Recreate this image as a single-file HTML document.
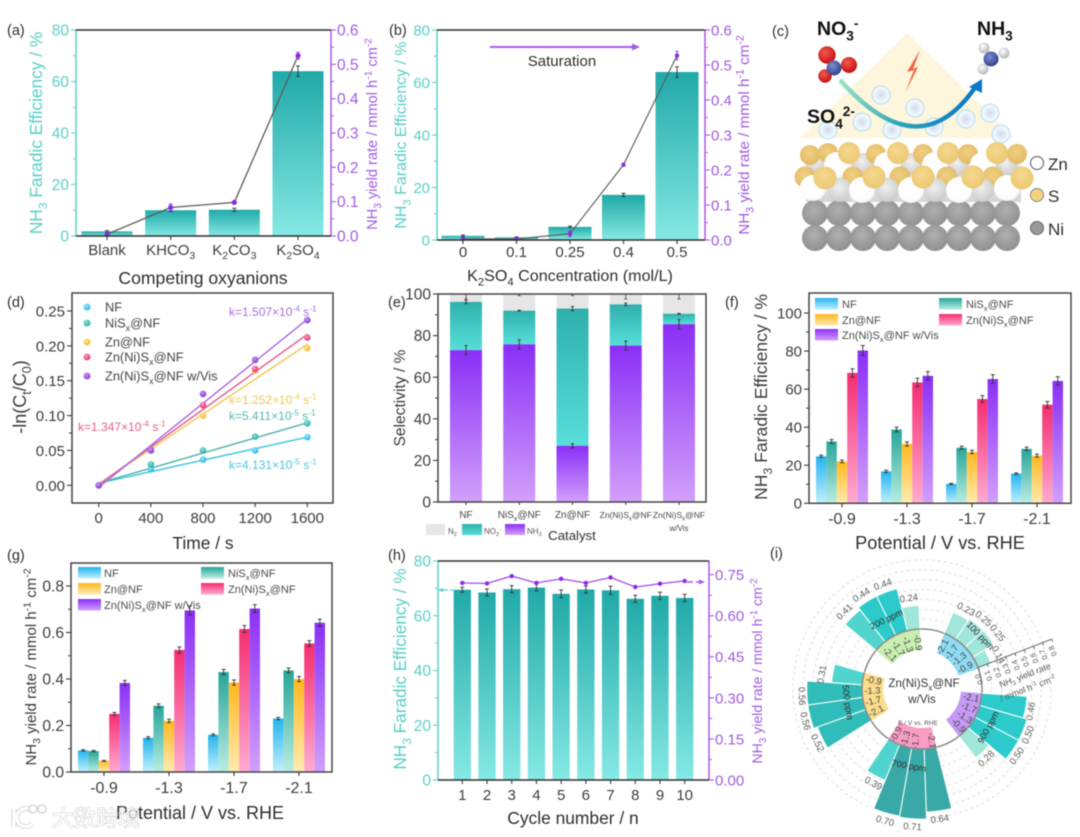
<!DOCTYPE html>
<html lang="en">
<head>
<meta charset="utf-8">
<title>Electrocatalysis figure panels</title>
<style>
html,body{margin:0;padding:0;background:#fff;width:1080px;height:837px;overflow:hidden}
svg{display:block;font-family:"Liberation Sans","Noto Sans CJK SC",sans-serif;filter:blur(.6px)}
</style>
</head>
<body>
<svg id="figure" xmlns="http://www.w3.org/2000/svg" width="1080" height="837" viewBox="0 0 1080 837">
<defs>
<linearGradient id="gTeal" x1="0" y1="0" x2="0" y2="1"><stop offset="0" stop-color="#20a9a8"/><stop offset="1" stop-color="#86e9e4"/></linearGradient>
<linearGradient id="gNO" x1="0" y1="0" x2="0" y2="1"><stop offset="0" stop-color="#2fb0ad"/><stop offset="1" stop-color="#58dfd9"/></linearGradient>
<linearGradient id="gVis" x1="0" y1="0" x2="0" y2="1"><stop offset="0" stop-color="#8a2ff6"/><stop offset="1" stop-color="#d2a0fb"/></linearGradient>
<linearGradient id="gBlue" x1="0" y1="0" x2="0" y2="1"><stop offset="0" stop-color="#23b4ef"/><stop offset="1" stop-color="#c2f0fd"/></linearGradient>
<linearGradient id="gNi" x1="0" y1="0" x2="0" y2="1"><stop offset="0" stop-color="#28a59b"/><stop offset="1" stop-color="#b9eee2"/></linearGradient>
<linearGradient id="gZn" x1="0" y1="0" x2="0" y2="1"><stop offset="0" stop-color="#ffb81e"/><stop offset="1" stop-color="#ffebb0"/></linearGradient>
<linearGradient id="gPink" x1="0" y1="0" x2="0" y2="1"><stop offset="0" stop-color="#f52d72"/><stop offset="1" stop-color="#ffabd0"/></linearGradient>
<linearGradient id="gArc" x1="0" y1="0" x2="1" y2="0"><stop offset="0" stop-color="#9be3c4"/><stop offset=".45" stop-color="#2aa3b8"/><stop offset="1" stop-color="#0c78c4"/></linearGradient>
<linearGradient id="gBand" x1="0" y1="0" x2="0" y2="1"><stop offset="0" stop-color="#f4f0e6"/><stop offset=".6" stop-color="#e4e4e4"/><stop offset="1" stop-color="#d4d4d4"/></linearGradient>
<radialGradient id="ballBlue" cx=".4" cy=".35" r=".7"><stop offset="0" stop-color="#9fe9fb"/><stop offset="1" stop-color="#19b2e2"/></radialGradient>
<radialGradient id="ballTeal" cx=".4" cy=".35" r=".7"><stop offset="0" stop-color="#8fe3d6"/><stop offset="1" stop-color="#1da79c"/></radialGradient>
<radialGradient id="ballYellow" cx=".4" cy=".35" r=".7"><stop offset="0" stop-color="#ffe49a"/><stop offset="1" stop-color="#f7b21a"/></radialGradient>
<radialGradient id="ballPink" cx=".4" cy=".35" r=".7"><stop offset="0" stop-color="#fb9dbd"/><stop offset="1" stop-color="#e82a6e"/></radialGradient>
<radialGradient id="ballPurple" cx=".4" cy=".35" r=".7"><stop offset="0" stop-color="#c79bf5"/><stop offset="1" stop-color="#7f2bdc"/></radialGradient>
<radialGradient id="atomS" cx=".45" cy=".4" r=".65"><stop offset="0" stop-color="#f5d98f"/><stop offset="1" stop-color="#ebc671"/></radialGradient>
<radialGradient id="atomSBack" cx=".45" cy=".4" r=".65"><stop offset="0" stop-color="#f0d083"/><stop offset="1" stop-color="#e2b862"/></radialGradient>
<radialGradient id="atomZn" cx=".45" cy=".4" r=".65"><stop offset="0" stop-color="#ffffff"/><stop offset=".75" stop-color="#fdfdfd"/><stop offset="1" stop-color="#ececec"/></radialGradient>
<radialGradient id="atomZnBack" cx=".45" cy=".4" r=".65"><stop offset="0" stop-color="#f0f0f0"/><stop offset="1" stop-color="#c8c8c8"/></radialGradient>
<radialGradient id="atomNi" cx=".45" cy=".4" r=".65"><stop offset="0" stop-color="#b0b0b0"/><stop offset="1" stop-color="#8d8d8d"/></radialGradient>
<radialGradient id="atomO" cx=".4" cy=".35" r=".7"><stop offset="0" stop-color="#f25a4e"/><stop offset="1" stop-color="#c4090f"/></radialGradient>
<radialGradient id="atomN" cx=".4" cy=".35" r=".7"><stop offset="0" stop-color="#7c8cd0"/><stop offset="1" stop-color="#2c3d86"/></radialGradient>
<radialGradient id="atomH" cx=".4" cy=".35" r=".7"><stop offset="0" stop-color="#ffffff"/><stop offset="1" stop-color="#b0b0b0"/></radialGradient>
<radialGradient id="bubble" cx=".5" cy=".5" r=".5"><stop offset="0" stop-color="#d4d9e2"/><stop offset=".5" stop-color="#e4eff8"/><stop offset=".8" stop-color="#f4fafe"/><stop offset="1" stop-color="#a8d6f2"/></radialGradient>
</defs>
<rect width="1080" height="837" fill="#ffffff"/>
<g id="panel-a"></g>
<g id="panel-b"></g>
<g id="panel-c">
  <polygon points="907,33 1014,138 800,138" fill="#fdf5dc"/>
  <polygon points="920,50 907,72 914,70 905,93 918,67 913,69" fill="#f2623c"/>
</g>
<g id="panel-d"></g>
<g id="panel-e"></g>
<g id="panel-f"></g>
<g id="panel-g"></g>
<g id="panel-h"></g>
<g id="panel-i"></g>
<g opacity=".8">
  <path d="M14 809 L14 827 M32 811 A9 9 0 1 0 32 824" fill="none" stroke="#cfcfcf" stroke-width="5"/>
  <path d="M14 809 L14 827 M32 811 A9 9 0 1 0 32 824" fill="none" stroke="#ffffff" stroke-width="3"/>
  <circle cx="33" cy="809" r="4" fill="#fff" stroke="#cfcfcf" stroke-width="1.6"/>
  <circle cx="42" cy="809" r="4" fill="#fff" stroke="#cfcfcf" stroke-width="1.6"/>
  <text x="52" y="826" font-size="22" fill="#ffffff" stroke="#cdcdcd" stroke-width="1.3" paint-order="stroke">大数跨境</text>
</g>
</svg>
<script>
/* ---------- panel (a) data ---------- */
const aCategories = ['Blank','KHCO_{3}','K_{2}CO_{3}','K_{2}SO_{4}'];
const aEfficiency = [1.8,10,10.2,64];
const aEfficiencyErr = [0.3,0.5,0.6,2];
const aRate = [0.005,0.083,0.098,0.525];
const aRateErr = [0.004,0.01,0.004,0.01];
const aLeftTicks = [0,20,40,60,80];
const aRightTicks = [0,0.1,0.2,0.3,0.4,0.5,0.6];
/* ---------- panel (b) data ---------- */
const bCategories = ['0','0.1','0.25','0.4','0.5'];
const bEfficiency = [1.6,1,5,17.2,64];
const bEfficiencyErr = [0.3,0.2,0.3,0.6,2];
const bRate = [0.003,0.003,0.018,0.215,0.527];
const bRateErr = [0.003,0.003,0.008,0.004,0.012];
const bLeftTicks = [0,20,40,60,80];
const bRightTicks = [0,0.1,0.2,0.3,0.4,0.5,0.6];
/* ---------- panel (d) data ---------- */
const dTimes = [0,400,800,1200,1600];
const dNF = [0,0.023,0.037,0.05,0.069];
const dNiS = [0,0.03,0.05,0.07,0.089];
const dZn = [0,0.051,0.1,0.165,0.197];
const dZnNi = [0,0.051,0.115,0.167,0.212];
const dVis = [0,0.05,0.131,0.18,0.237];
const dSlopes = [4.131e-5,5.411e-5,1.252e-4,1.347e-4,1.507e-4];
const dIntercepts = [0.003,0.003,0.002,0.001,-0.003];
const dYTicks = [0,0.05,0.1,0.15,0.2,0.25];
const dXTicks = [0,400,800,1200,1600];
/* ---------- panel (e) data ---------- */
const eCategories = ['NF','NiS_{x}@NF','Zn@NF','Zn(Ni)S_{x}@NF','Zn(Ni)S_{x}@NF'];
const eNH3 = [73,75.8,27,75.2,85.5];
const eNO2 = [23.2,16.2,66,19.8,5];
const eN2 = [3.8,8,7,5,9.5];
const eNH3Err = [2.2,2.2,1,2.2,2.2];
const eNO2Err = [0.8,0.2,1,0.6,0.2];
const eN2Err = [1.2,0.4,0.4,1.2,1.2];
const eYTicks = [0,20,40,60,80,100];
/* ---------- panels (f) and (g) data ---------- */
const potentials = ['-0.9','-1.3','-1.7','-2.1'];
const fNF = [24.7,16.8,10.2,15.6];
const fNiS = [32.5,38.8,29.2,28.6];
const fZn = [22,31.2,27,25];
const fZnNi = [68.5,63.5,54.8,51.8];
const fVis = [80.3,67,65.3,64.3];
const fNFErr = [0.6,0.6,0.3,0.4];
const fNiSErr = [1,1.2,0.8,0.9];
const fZnErr = [0.7,1.1,0.9,0.8];
const fZnNiErr = [2.2,2.2,1.8,1.7];
const fVisErr = [2.6,2.2,2.3,2.2];
const fYTicks = [0,20,40,60,80,100];
const gNF = [0.093,0.147,0.16,0.23];
const gNiS = [0.09,0.285,0.43,0.437];
const gZn = [0.048,0.22,0.385,0.4];
const gZnNi = [0.25,0.525,0.615,0.553];
const gVis = [0.383,0.695,0.703,0.642];
const gNFErr = [0.003,0.005,0.004,0.005];
const gNiSErr = [0.003,0.008,0.011,0.01];
const gZnErr = [0.002,0.007,0.011,0.011];
const gZnNiErr = [0.006,0.013,0.015,0.012];
const gVisErr = [0.011,0.02,0.017,0.015];
const gYTicks = [0,0.2,0.4,0.6,0.8];
const catalystLabels = ['NF','NiS_{x}@NF','Zn@NF','Zn(Ni)S_{x}@NF','Zn(Ni)S_{x}@NF w/Vis'];
/* ---------- panel (h) data ---------- */
const hCycles = ['1','2','3','4','5','6','7','8','9','10'];
const hEfficiency = [69.5,68.5,69.7,70.3,68,69.6,69.3,66.2,67.3,66.5];
const hEfficiencyErr = [0.9,1.3,1.3,1.3,1.4,1.3,1.5,1.3,1.3,1.3];
const hRate = [0.72,0.718,0.745,0.72,0.735,0.72,0.74,0.705,0.717,0.727];
const hLeftTicks = [0,20,40,60,80];
const hRightTicks = [0,0.15,0.3,0.45,0.6,0.75];
/* ---------- panel (i) data ---------- */
const iGroups = ['100 ppm','900 ppm','700 ppm','500 ppm','200 ppm'];
const iPotentials = ['-2.1','-1.7','-1.3','-0.9'];
const i100 = [0.23,0.25,0.25,0.14];
const i900 = [0.46,0.50,0.50,0.28];
const i700 = [0.64,0.71,0.70,0.39];
const i500 = [0.52,0.56,0.56,0.31];
const i200 = [0.41,0.44,0.44,0.24];
const iAxisTicks = [0,0.1,0.2,0.3,0.4,0.5,0.6,0.7,0.8];

/* ---------- helpers ---------- */
const NS = 'http://www.w3.org/2000/svg';
const TEAL = '#5fd0c7', PURPLE = '#a85ae6', DARK = '#3a3a3a', TXT = '#3c3c3c';
const fp = n => Math.round(n*100)/100;
function linear(d0,d1,r0,r1){ return v => r0+(v-d0)*(r1-r0)/(d1-d0); }
function mk(parent,tag,attrs){
  const e = document.createElementNS(NS,tag);
  for(const k in attrs) e.setAttribute(k,attrs[k]);
  parent.appendChild(e);
  return e;
}
function rich(t,str,fs){
  const parts = str.split(/([_^]\{[^}]*\})/).filter(s=>s.length);
  let shift = 0;
  parts.forEach(p=>{
    const m = p.match(/^([_^])\{([^}]*)\}$/);
    const s = mk(t,'tspan',{});
    
    
    if(m){
      const d = m[1]==='_' ? fs*0.28 : -fs*0.36;
      s.setAttribute('dy',fp(d-shift));
      shift = d;
      s.setAttribute('font-size',fp(fs*0.7));
      s.textContent = m[2];
    }else{
      if(shift!==0){ s.setAttribute('dy',fp(-shift)); shift = 0; }
      s.textContent = p;
    }
  });
}
function label(p,x,y,str,fs,color,anchor,rotate,name){
  const t = mk(p,'text',{x:x,y:y,'font-size':fs,fill:color,'text-anchor':anchor||'middle'});
  
  
  if(rotate) t.setAttribute('transform','rotate('+fp(rotate)+' '+fp(x)+' '+fp(y)+')');
  rich(t,str,fs);
  return t;
}
function seg(p,x1,y1,x2,y2,color,w,name){
  const l = mk(p,'line',{x1:fp(x1),y1:fp(y1),x2:fp(x2),y2:fp(y2),stroke:color,'stroke-width':w});
  
  
  return l;
}
function bar(p,cx,w,yTop,yBase,fill,name){
  const r = mk(p,'rect',{x:fp(cx-w/2),y:fp(yTop),width:fp(w),height:fp(yBase-yTop),fill:fill});
  
  
  return r;
}
function dot(p,x,y,r,fill,name){
  const c = mk(p,'circle',{cx:fp(x),cy:fp(y),r:r,fill:fill});
  
  
  return c;
}
function err(p,x,y0,y1,cap,color,name){
  seg(p,x,y0,x,y1,color,0.9,name);
  seg(p,x-cap,y0,x+cap,y0,color,0.9,name+'-cap');
  seg(p,x-cap,y1,x+cap,y1,color,0.9,name+'-cap');
}
function yAxis(p,x,sc,ticks,side,color,dec,fs,tc,name){
  const dir = side==='left' ? -1 : 1;
  ticks.forEach((v,i)=>{
    seg(p,x,sc(v),x+dir*5,sc(v),color,1.1,name+'-tick');
    const lx = x+dir*(side==='left'?7:6);
    label(p,lx,sc(v)+fs*0.36,Number(v).toFixed(dec),fs,tc,side==='left'?'end':'start',0,name+'-tick-label');
    if(i<ticks.length-1){
      const m = sc((v+ticks[i+1])/2);
      seg(p,x,m,x+dir*3,m,color,1,name+'-minor-tick');
    }
  });
}
function xTicks(p,y,xs,labels,fs,ly,name){
  labels.forEach((s,i)=>{
    seg(p,xs[i],y,xs[i],y+4,DARK,1.1,name+'-tick');
    label(p,xs[i],ly,s,fs,TXT,'middle',0,name+'-tick-label');
  });
}
function legendSwatch(p,x,y,w,h,fill,name){
  const r = mk(p,'rect',{x:x,y:y,width:w,height:h,fill:fill});
  
  
}
function polyline(p,pts,color,w,name){
  const l = mk(p,'polyline',{points:pts.map(q=>fp(q[0])+','+fp(q[1])).join(' '),fill:'none',stroke:color,'stroke-width':w,'stroke-linejoin':'round'});
  
  
}
function box(p,L,T,R,B,name){
  const r = mk(p,'rect',{x:L,y:T,width:R-L,height:B-T,fill:'none',stroke:'#454545','stroke-width':1.5});
  
  
}
function dualFrame(p,L,R,T,B){
  seg(p,L,T,L,B,TEAL,1.5,'left-axis-line');
  seg(p,R,T,R,B,PURPLE,1.5,'right-axis-line');
  seg(p,L,T,R,T,'#2e2e2e',1.5,'top-axis-line');
  seg(p,L,B,R,B,'#2e2e2e',1.5,'bottom-axis-line');
}

/* ---------- panel a ---------- */
(function(){
  const p = document.getElementById('panel-a');
  const L=76,R=331,T=30,B=236;
  const yL = linear(0,80,B,T), yR = linear(0,0.6,B,T), x = linear(0,3,107,298);
  const xs = aCategories.map((c,i)=>x(i));
  aEfficiency.forEach((v,i)=>{
    bar(p,xs[i],51,yL(v),B,'url(#gTeal)','efficiency-bar');
    err(p,xs[i],yL(v-aEfficiencyErr[i]),yL(v+aEfficiencyErr[i]),2,'#333','efficiency-error-bar');
  });
  polyline(p,aRate.map((v,i)=>[xs[i],yR(v)]),'#5a5a5a',1.3,'yield-rate-line');
  aRate.forEach((v,i)=>{
    err(p,xs[i],yR(v-aRateErr[i]),yR(v+aRateErr[i]),2,'#8a2be2','yield-rate-error-bar');
    dot(p,xs[i],yR(v),2.6,'#8a2be2','yield-rate-point');
  });
  dualFrame(p,L,R,T,B);
  yAxis(p,L,yL,aLeftTicks,'left',TEAL,0,15.5,'#59cfc6','left-axis');
  yAxis(p,R,yR,aRightTicks,'right',PURPLE,1,15.5,'#a05be0','right-axis');
  xTicks(p,B,xs,aCategories,15,255,'x-axis');
  label(p,42,133,'NH_{3} Faradic Efficiency / %',17.3,'#59cfc6','middle',-90,'left-axis-title');
  label(p,377,134,'NH_{3} yield rate / mmol h^{-1} cm^{-2}',14.6,'#a05be0','middle',-90,'right-axis-title');
  label(p,203,284,'Competing oxyanions',17.6,'#2e2e2e','middle',0,'x-axis-title');
  label(p,7,35,'(a)',14.5,'#2e2e2e','start',0,'panel-label-a');
})();

/* ---------- panel b ---------- */
(function(){
  const p = document.getElementById('panel-b');
  const L=437,R=705,T=30,B=240;
  const yL = linear(0,80,B,T), yR = linear(0,0.6,B,T), x = linear(0,4,463,677);
  const xs = bCategories.map((c,i)=>x(i));
  bEfficiency.forEach((v,i)=>{
    bar(p,xs[i],43,yL(v),B,'url(#gTeal)','efficiency-bar');
    err(p,xs[i],yL(v-bEfficiencyErr[i]),yL(v+bEfficiencyErr[i]),2,'#333','efficiency-error-bar');
  });
  polyline(p,bRate.map((v,i)=>[xs[i],yR(v)]),'#5a5a5a',1.1,'yield-rate-line');
  bRate.forEach((v,i)=>{
    err(p,xs[i],yR(v-bRateErr[i]),yR(v+bRateErr[i]),1.5,'#8a2be2','yield-rate-error-bar');
    dot(p,xs[i],yR(v),2.2,'#8a2be2','yield-rate-point');
  });
  dualFrame(p,L,R,T,B);
  yAxis(p,L,yL,bLeftTicks,'left',TEAL,0,15,'#59cfc6','left-axis');
  yAxis(p,R,yR,bRightTicks,'right',PURPLE,1,15,'#a05be0','right-axis');
  xTicks(p,B,xs,bCategories,15,257,'x-axis');
  label(p,406,135,'NH_{3} Faradic Efficiency / %',16,'#59cfc6','middle',-90,'left-axis-title');
  label(p,749,135,'NH_{3} yield rate / mmol h^{-1} cm^{-2}',15.2,'#a05be0','middle',-90,'right-axis-title');
  label(p,570,281,'K_{2}SO_{4} Concentration (mol/L)',16.1,'#2e2e2e','middle',0,'x-axis-title');
  seg(p,490,47,635,47,'#a65be8',2,'saturation-arrow-line');
  const head = mk(p,'polygon',{points:'640,47 632,43.5 632,50.5',fill:'#a65be8'});
  
  
  label(p,562,66,'Saturation',15,'#2e2e2e','middle',0,'saturation-label');
  label(p,389,35,'(b)',14.5,'#2e2e2e','start',0,'panel-label-b');
})();

/* ---------- panel c illustration ---------- */
const cBubbles = [[881,95],[915,108],[862,122],[828,130],[892,130],[934,127],[966,119],[990,113],[1001,134]];
const cZnMidBack = [[817,163],[863,164],[912,164],[958,165],[1007,165]];
const cSTopBack = [[810,155],[828,153],[876,154],[923,154],[968,154],[1017,154]];
const cZnMid = [[837,165],[887,165],[935,165],[983,165]];
const cSTopFront = [[849,153],[898,153],[948,153],[997,153]];
const cSLowBack = [[805,177],[853,177],[900,177],[947,177],[993,177]];
const cZnLowBack = [[840,190],[887,190],[935,190],[982,190]];
const cZnLow = [[813,188],[862,190],[911,190],[959,190],[1007,188]];
const cSLow = [[825,178],[874,177],[923,177],[973,177],[1022,178]];
(function(){
  const p = document.getElementById('panel-c');
  cBubbles.forEach(b=>dot(p,b[0],b[1],9.5,'url(#bubble)','water-bubble'));
  legendSwatch(p,806,158,215,44,'url(#gBand)','atom-layer-shadow');
  for(let row=0;row<2;row++){
    for(let i=0;i<9;i++){
      dot(p,815+24*i,213+25*row,13,'url(#atomNi)','nickel-atom');
    }
  }
  cZnMidBack.forEach(a=>dot(p,a[0],a[1],11,'url(#atomZnBack)','zinc-atom'));
  cSTopBack.forEach(a=>dot(p,a[0],a[1],10,'url(#atomSBack)','sulfur-atom'));
  cZnMid.forEach(a=>dot(p,a[0],a[1],13,'url(#atomZn)','zinc-atom'));
  cSTopFront.forEach(a=>dot(p,a[0],a[1],11,'url(#atomS)','sulfur-atom'));
  cSLowBack.forEach(a=>dot(p,a[0],a[1],10.5,'url(#atomSBack)','sulfur-atom'));
  cZnLowBack.forEach(a=>dot(p,a[0],a[1],12,'url(#atomZnBack)','zinc-atom'));
  cZnLow.forEach(a=>dot(p,a[0],a[1],13,'url(#atomZn)','zinc-atom'));
  cSLow.forEach(a=>dot(p,a[0],a[1],11.5,'url(#atomS)','sulfur-atom'));
  const arc = mk(p,'path',{d:'M840 80 Q918 168 974 89',fill:'none',stroke:'url(#gArc)','stroke-width':4.5});
  
  
  const tip = mk(p,'polygon',{points:'982,79 969,87 982,93',fill:'#0c78c4'});
  
  
  dot(p,827,55,8.7,'url(#atomO)','oxygen-atom');
  dot(p,849,65,8,'url(#atomO)','oxygen-atom');
  dot(p,825,76,6.7,'url(#atomO)','oxygen-atom');
  dot(p,834,68,7.5,'url(#atomN)','nitrogen-atom');
  dot(p,984,48,5.5,'url(#atomH)','hydrogen-atom');
  dot(p,1004,53,5.5,'url(#atomH)','hydrogen-atom');
  dot(p,983,69,5.5,'url(#atomH)','hydrogen-atom');
  dot(p,991,59,7.5,'url(#atomN)','nitrogen-atom');
  label(p,817,35,'NO_{3}^{-}',19.5,'#111','start',0,'nitrate-label').setAttribute('font-weight','bold');
  label(p,977,35,'NH_{3}',19.5,'#111','start',0,'ammonia-label').setAttribute('font-weight','bold');
  label(p,807,123,'SO_{4}^{2-}',19.5,'#111','start',0,'sulfate-label').setAttribute('font-weight','bold');
  label(p,772,36,'(c)',14.5,'#2e2e2e','start',0,'panel-label-c');
  const z = dot(p,1037,163,6.5,'#ffffff','legend-zinc-marker');
  z.setAttribute('stroke','#555');
  const s = dot(p,1037,195,6.5,'#f3d27f','legend-sulfur-marker');
  s.setAttribute('stroke','#888');
  const n = dot(p,1037,228,6.5,'#9a9a9a','legend-nickel-marker');
  n.setAttribute('stroke','#666');
  label(p,1048,170,'Zn',17,'#2e2e2e','start',0,'legend-zinc-label');
  label(p,1048,202,'S',17,'#2e2e2e','start',0,'legend-sulfur-label');
  label(p,1048,235,'Ni',17,'#2e2e2e','start',0,'legend-nickel-label');
})();

/* ---------- panel d ---------- */
(function(){
  const p = document.getElementById('panel-d');
  const L=72,R=333,T=293,B=503;
  const x = linear(0,1600,98.7,307.3), y = linear(0,0.25,485.3,311);
  const series = [dNF,dNiS,dZn,dZnNi,dVis];
  const colors = ['#3cc4e6','#4fb5a8','#f2c64e','#e2588c','#a968e2'];
  const balls = ['url(#ballBlue)','url(#ballTeal)','url(#ballYellow)','url(#ballPink)','url(#ballPurple)'];
  series.forEach((s,k)=>{
    const t0 = dTimes[0], t1 = dTimes[dTimes.length-1];
    seg(p,x(t0),y(dSlopes[k]*t0+dIntercepts[k]),x(t1),y(dSlopes[k]*t1+dIntercepts[k]),colors[k],1.4,'fit-line');
  });
  series.forEach((s,k)=>{
    s.forEach((v,i)=>dot(p,x(dTimes[i]),y(v),3.3,balls[k],'data-point'));
  });
  box(p,L,T,R,B,'plot-frame');
  dYTicks.forEach((v,i)=>{
    seg(p,L,y(v),L-5,y(v),DARK,1.1,'y-axis-tick');
    label(p,65,y(v)+5.5,v.toFixed(2),15,TXT,'end',0,'y-axis-tick-label');
    if(i<dYTicks.length-1) seg(p,L,y((v+dYTicks[i+1])/2),L-3,y((v+dYTicks[i+1])/2),DARK,1,'y-axis-minor-tick');
  });
  dXTicks.forEach(v=>{
    seg(p,x(v),B,x(v),B+4,DARK,1.1,'x-axis-tick');
    label(p,x(v),B+20,String(v),15,TXT,'middle',0,'x-axis-tick-label');
  });
  label(p,26,397,'-ln(C_{t}/C_{0})',18,TXT,'middle',-90,'y-axis-title');
  label(p,203,549,'Time / s',17.4,'#2e2e2e','middle',0,'x-axis-title');
  label(p,7,307,'(d)',14.5,'#2e2e2e','start',0,'panel-label-d');
  const legendY = [307,323,342,357,376];
  catalystLabels.forEach((c,k)=>{
    dot(p,87,legendY[k],3.4,balls[k],'legend-marker');
    label(p,105,legendY[k]+4.5,c,12.8,'#454545','start',0,'legend-label');
  });
  label(p,229,316,'k=1.507×10^{-4} s^{-1}',12,'#ab6ee2','start',0,'rate-constant-vis');
  label(p,78,431,'k=1.347×10^{-4} s^{-1}',12,'#e2608c','start',0,'rate-constant-znnis');
  label(p,229,404,'k=1.252×10^{-4} s^{-1}',12,'#eccb58','start',0,'rate-constant-zn');
  label(p,229,420,'k=5.411×10^{-5} s^{-1}',12,'#58b9ad','start',0,'rate-constant-nis');
  label(p,229,469,'k=4.131×10^{-5} s^{-1}',12,'#4cc5e0','start',0,'rate-constant-nf');
})();

/* ---------- panel e ---------- */
(function(){
  const p = document.getElementById('panel-e');
  const L=438,R=706,T=294,B=502;
  const y = linear(0,100,B,T), x = linear(0,4,466,679);
  eCategories.forEach((c,i)=>{
    const cx = x(i);
    const top1 = eNH3[i], top2 = top1+eNO2[i], top3 = Math.min(100,top2+eN2[i]);
    bar(p,cx,32,y(top3),y(top2),'#e6e6e6','n2-bar-segment');
    bar(p,cx,32,y(top2),y(top1),'url(#gNO)','no2-bar-segment');
    bar(p,cx,32,y(top1),B,'url(#gVis)','nh3-bar-segment');
    err(p,cx,y(top1-eNH3Err[i]),y(top1+eNH3Err[i]),1.6,'#333','nh3-error-bar');
    err(p,cx,y(top2-eNO2Err[i]),y(top2+eNO2Err[i]),1.6,'#333','no2-error-bar');
    err(p,cx,y(100-2*eN2Err[i]),y(100),1.6,'#555','n2-error-bar');
    seg(p,cx,B,cx,B+3,DARK,1,'x-axis-tick');
    const wide = i>=3;
    label(p,cx,518,c,wide?8.5:10,'#454545','middle',0,'x-axis-tick-label');
  });
  label(p,x(4),531,'w/Vis',8,'#454545','middle',0,'x-axis-tick-label-line2');
  box(p,L,T,R,B,'plot-frame');
  yAxis(p,L,y,eYTicks,'left',DARK,0,15.5,TXT,'y-axis');
  label(p,405,398,'Selectivity / %',15.6,TXT,'middle',-90,'y-axis-title');
  label(p,572,540,'Catalyst',13.2,'#2e2e2e','middle',0,'x-axis-title');
  label(p,388,307,'(e)',14.5,'#2e2e2e','start',0,'panel-label-e');
  legendSwatch(p,426,524,19,11,'#e6e6e6','legend-n2-swatch');
  label(p,448,534,'N_{2}',8,'#555','start',0,'legend-n2-label');
  legendSwatch(p,462,524,20,11,'url(#gNO)','legend-no2-swatch');
  label(p,484,534,'NO_{2}^{-}',8,'#555','start',0,'legend-no2-label');
  legendSwatch(p,505,524,20,11,'url(#gVis)','legend-nh3-swatch');
  label(p,527,534,'NH_{3}',8,'#555','start',0,'legend-nh3-label');
})();

/* ---------- shared grouped bar renderer for f and g ---------- */
const groupFills = ['url(#gBlue)','url(#gNi)','url(#gZn)','url(#gPink)','url(#gVis)'];
function groupedBars(p,xs,y,B,w,series,errors){
  series.forEach((s,k)=>{
    s.forEach((v,i)=>{
      const cx = xs[i]+(k-2)*w;
      bar(p,cx,w,y(v),B,groupFills[k],'catalyst-bar');
      err(p,cx,y(v-errors[k][i]),y(v+errors[k][i]),2,'#333','catalyst-error-bar');
    });
  });
}
function groupLegend(p,c1,c2,rows,tx1,tx2,fs){
  const pos = [[c1,rows[0],tx1],[c2,rows[0],tx2],[c1,rows[1],tx1],[c2,rows[1],tx2],[c1,rows[2],tx1]];
  const order = [0,1,2,3,4];
  order.forEach(k=>{
    legendSwatch(p,pos[k][0],pos[k][1],23,11.5,groupFills[k],'legend-swatch');
    label(p,pos[k][2],pos[k][1]+10,catalystLabels[k],fs,'#4a4a4a','start',0,'legend-label');
  });
}

/* ---------- panel f ---------- */
(function(){
  const p = document.getElementById('panel-f');
  const L=809,R=1071,T=293,B=503.3;
  const y = linear(0,100,B,313), x = linear(0,3,842,1037);
  const xs = potentials.map((c,i)=>x(i));
  groupedBars(p,xs,y,B,10.4,[fNF,fNiS,fZn,fZnNi,fVis],[fNFErr,fNiSErr,fZnErr,fZnNiErr,fVisErr]);
  box(p,L,T,R,B,'plot-frame');
  yAxis(p,L,y,fYTicks,'left',DARK,0,15,TXT,'y-axis');
  xTicks(p,B,xs,potentials,16,524,'x-axis');
  label(p,767,397,'NH_{3} Faradic Efficiency / %',17.6,TXT,'middle',-90,'y-axis-title');
  label(p,940,549,'Potential / V vs. RHE',18.2,'#2e2e2e','middle',0,'x-axis-title');
  label(p,725,307,'(f)',14.5,'#2e2e2e','start',0,'panel-label-f');
  groupLegend(p,815,939,[298,314,329],842,966,11);
})();

/* ---------- panel g ---------- */
(function(){
  const p = document.getElementById('panel-g');
  const L=71,R=332,T=563,B=772;
  const y = linear(0,0.8,B,586), x = linear(0,3,104,299);
  const xs = potentials.map((c,i)=>x(i));
  groupedBars(p,xs,y,B,10.4,[gNF,gNiS,gZn,gZnNi,gVis],[gNFErr,gNiSErr,gZnErr,gZnNiErr,gVisErr]);
  box(p,L,T,R,B,'plot-frame');
  yAxis(p,L,y,gYTicks,'left',DARK,1,15.6,TXT,'y-axis');
  xTicks(p,B,xs,potentials,16,793,'x-axis');
  label(p,36,667,'NH_{3} yield rate / mmol h^{-1} cm^{-2}',15,TXT,'middle',-90,'y-axis-title');
  label(p,200,819,'Potential / V vs. RHE',18,'#2e2e2e','middle',0,'x-axis-title');
  label(p,7,560,'(g)',14.5,'#2e2e2e','start',0,'panel-label-g');
  groupLegend(p,78,201,[567,583,599],104,228,11);
})();

/* ---------- panel h ---------- */
(function(){
  const p = document.getElementById('panel-h');
  const L=438,R=709,T=561,B=780;
  const yL = linear(0,80,B,T), yR = linear(0,0.8,B,T), x = linear(0,9,462.3,684.7);
  const xs = hCycles.map((c,i)=>x(i));
  hEfficiency.forEach((v,i)=>{
    bar(p,xs[i],17.3,yL(v),B,'url(#gTeal)','efficiency-bar');
    err(p,xs[i],yL(v-hEfficiencyErr[i]),yL(v+hEfficiencyErr[i]),2,'#333','efficiency-error-bar');
  });
  polyline(p,hRate.map((v,i)=>[xs[i],yR(v)]),'#a85ae6',1.4,'yield-rate-line');
  hRate.forEach((v,i)=>dot(p,xs[i],yR(v),2.2,'#8a2be2','yield-rate-point'));
  dualFrame(p,L,R,T,B);
  yAxis(p,L,yL,hLeftTicks,'left',TEAL,0,15.5,'#59cfc6','left-axis');
  yAxis(p,R,yR,hRightTicks,'right',PURPLE,2,15,'#a05be0','right-axis');
  xTicks(p,B,xs,hCycles,15,800,'x-axis');
  label(p,406,669,'NH_{3} Faradic Efficiency / %',17.2,'#59cfc6','middle',-90,'left-axis-title');
  label(p,762,671,'NH_{3} yield rate / mmol h^{-1} cm^{-2}',14.1,'#a05be0','middle',-90,'right-axis-title');
  label(p,573,824,'Cycle number / n',17.4,'#2e2e2e','middle',0,'x-axis-title');
  label(p,388,560,'(h)',14.5,'#2e2e2e','start',0,'panel-label-h');
  const dash = seg(p,441,590,453,590,'#5fd0c7',1.2,'efficiency-axis-arrow');
  dash.setAttribute('stroke-dasharray','7 2');
  const ah = mk(p,'polygon',{points:'438,590 443,588 443,592',fill:'#5fd0c7'});
  
  
  const dash2 = seg(p,687,582,701,582,'#a85ae6',1.4,'yield-axis-arrow');
  dash2.setAttribute('stroke-dasharray','6 3');
  const ah2 = mk(p,'polygon',{points:'705,582 699,579.5 699,584.5',fill:'#a85ae6'});
  
  
})();

/* ---------- panel i ---------- */
(function(){
  const p = document.getElementById('panel-i');
  const cx=922, cy=689, R0=60, inner=39;
  const rScale = linear(0,0.8,R0,R0+79);
  const pol = (a,r)=>[cx+r*Math.sin(a*Math.PI/180), cy-r*Math.cos(a*Math.PI/180)];
  function sector(a0,a1,r0,r1){
    const A=pol(a0,r1),B=pol(a1,r1),C=pol(a1,r0),D=pol(a0,r0);
    return 'M'+fp(A[0])+' '+fp(A[1])+'A'+r1+' '+r1+' 0 0 1 '+fp(B[0])+' '+fp(B[1])+'L'+fp(C[0])+' '+fp(C[1])+'A'+r0+' '+r0+' 0 0 0 '+fp(D[0])+' '+fp(D[1])+'Z';
  }
  const shade = v => v<0.3 ? '#a0e6db' : v<0.42 ? '#52d4ce' : v<0.51 ? '#2ccaca' : v<0.6 ? '#30bdb9' : '#38a9a6';
  const tangent = a => (a>90&&a<270) ? a-180 : a;
  iAxisTicks.forEach(v=>{
    if(v===0||v>0.7) return;
    const c = mk(p,'circle',{cx:cx,cy:cy,r:fp(rScale(v)),fill:'none',stroke:'#dcdcdc','stroke-width':1,'stroke-dasharray':'3 3'});
    
    
  });
  const groups = [i100,i900,i700,i500,i200];
  const starts = [22,94,166,238,310];
  const ring = ['#8fdcf5','#c59af5','#f99dc5','#fcdc8a','#c9eeb0'];
  const inside = mk(p,'circle',{cx:cx,cy:cy,r:R0,fill:'#ffffff',stroke:'#8a8a8a','stroke-width':1.5});
  
  
  groups.forEach((vals,g)=>{
    const ringSeg = mk(p,'path',{d:sector(starts[g],starts[g]+48,inner,R0),fill:ring[g]});
    
    
    vals.forEach((v,i)=>{
      const a0 = starts[g]+i*12, a1 = a0+12, mid = a0+6;
      const s = mk(p,'path',{d:sector(a0,a1,R0,fp(rScale(v))),fill:shade(v),stroke:'#ffffff','stroke-width':1});
      
      
      const lp = pol(mid,rScale(v)+8);
      label(p,lp[0],lp[1]+3,v.toFixed(2),9.5,'#5a5a5a','middle',tangent(mid),'radial-bar-value');
      const tp = pol(mid,(inner+R0)/2);
      const rot = mid<180 ? mid-90 : mid+90;
      label(p,tp[0],tp[1]+3,iPotentials[i],9.3,'#444','middle',rot,'potential-label');
    });
    const mid = starts[g]+24, gp = pol(mid,78);
    label(p,gp[0],gp[1]+3,iGroups[g],9,'#2f2f2f','middle',tangent(mid),'concentration-label');
    const arcLine = mk(p,'path',{d:sector(starts[g],starts[g]+48,R0,R0),fill:'none',stroke:'#8a8a8a','stroke-width':1.5});
    
    
  });
  const ax = 69;
  const a0 = pol(ax,rScale(0)), a1 = pol(ax,rScale(0.8));
  seg(p,a0[0],a0[1],a1[0],a1[1],'#555',0.9,'radial-axis-line');
  iAxisTicks.forEach(v=>{
    const q = pol(ax,rScale(v));
    const nx = Math.cos(ax*Math.PI/180), ny = Math.sin(ax*Math.PI/180);
    seg(p,q[0],q[1],q[0]+nx*3,q[1]+ny*3,'#555',0.8,'radial-axis-tick');
    label(p,q[0]+nx*9,q[1]+ny*9+2.5,v.toFixed(1),7.5,'#555','middle',-111,'radial-axis-tick-label');
  });
  label(p,1026,678,'NH_{3} yield rate',8.8,'#555','middle',-21,'radial-axis-title');
  label(p,1029,691,'/ mmol h^{-1} cm^{-2}',8.8,'#555','middle',-21,'radial-axis-title-units');
  label(p,924,687,'Zn(Ni)S_{x}@NF',11.6,'#333','middle',0,'center-catalyst-label');
  label(p,922,703,'w/Vis',11.6,'#333','middle',0,'center-condition-label');
  label(p,918,725,'E / V vs. RHE',6.5,'#555','middle',0,'potential-ring-title');
  label(p,770,558,'(i)',14.5,'#2e2e2e','start',0,'panel-label-i');
})();
</script>
</body>
</html>
